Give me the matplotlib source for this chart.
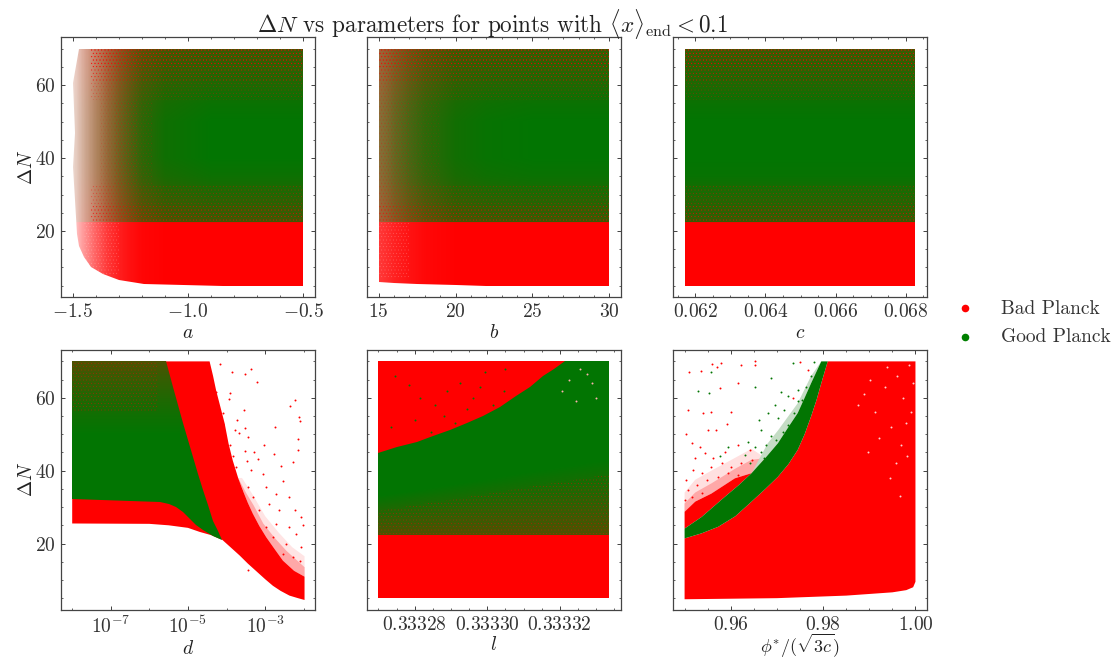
import matplotlib
matplotlib.use("Agg")
import matplotlib.pyplot as plt
from matplotlib.colors import to_rgb
from matplotlib.patches import Polygon
import numpy as np

plt.rcParams['mathtext.fontset'] = 'cm'
plt.rcParams['font.family'] = ['cmr10', 'DejaVu Sans']
plt.rcParams['axes.formatter.use_mathtext'] = True
plt.rcParams['hatch.linewidth'] = 0.2

RED = '#ff0000'
GREEN = '#027502'

# share of red among the points at each height, panels a, b, c
a_y = [5, 22.2, 22.5, 25, 30, 35, 40, 50, 55, 60, 65, 70]
a_red_y = [1, 1, .24, .20, .12, .04, 0, 0, .03, .10, .16, .22]
b_red_y = [1, 1, .22, .18, .10, .03, 0, 0, .03, .10, .15, .20]
c_red_y = [1, 1, .20, .16, .10, .02, 0, 0, .03, .10, .15, .22]

# panel a, how full the cloud is along x and how red it gets on the left
a_x = [-1.5, -1.45, -1.4, -1.35, -1.3, -1.25, -1.2, -1.1, -0.9, -0.5]
a_cover = [.18, .42, .62, .78, .88, .94, .98, 1, 1, 1]
a_red_x = [.6, .55, .5, .45, .35, .25, .15, .05, 0, 0]
a_env_y = [5, 5.5, 6.5, 8.3, 10, 12.8, 16, 19.3, 28.4, 37.6, 46.8, 60.5, 70]
a_env_x = [-0.85, -1.19, -1.3, -1.37, -1.42, -1.45, -1.47, -1.48, -1.49, -1.50, -1.49, -1.50, -1.47]

# panel b
b_x = [15, 15.5, 16, 17, 18, 20, 22, 25, 30]
b_cover = [.78, .82, .87, .93, .97, 1, 1, 1, 1]
b_red_x = [.4, .36, .3, .22, .15, .06, .02, 0, 0]
b_low_x = [15, 16, 17.5, 20, 22, 30]
b_low_y = [6.1, 5.7, 5.4, 5.1, 5.0, 5.0]

# panel c
c_lim = [0.0617, 0.06827]

# panel d, log10(d)
d_low_x = [-8, -6, -5.5, -5, -4.7, -4.4, -4.11, -3.9, -3.66, -3.45, -3.23, -3, -2.8, -2.6, -2.37, -2.15, -1.98]
d_low_y = [25.5, 25.4, 25, 24.3, 23.2, 22.3, 21, 19, 16.7, 14.5, 12.4, 10.2, 8.4, 7, 5.7, 5, 4.5]
d_up_x = [-8, -4.44, -4.35, -4.27, -4.16, -4.05, -3.95, -3.84, -3.7, -3.58, -3.45, -3.32, -3.15, -2.97, -2.75, -2.54, -2.25, -1.98]
d_up_y = [70, 70, 66, 62, 57.5, 53, 47.5, 42.8, 38, 34.6, 31.2, 28.2, 24.8, 21.7, 18.4, 15.3, 12.5, 10.9]
d_soft_x = [-3.7, -3.5, -3.3, -3.05, -2.75, -2.45, -1.98]
d_soft_y = [38, 34, 30.5, 25.5, 21.5, 18, 13.5]
d_pale_x = [-3.6, -3.3, -3, -2.65, -2.3, -1.98]
d_pale_y = [38, 33, 27.5, 23, 19, 16.5]
d_green_lo_x = [-8, -5.73, -5.5, -5.3, -5.13, -4.96, -4.8, -4.61, -4.35, -4.11]
d_green_lo_y = [32.3, 31.4, 30.8, 30, 28.6, 26.8, 25.2, 23.6, 22.2, 21]
d_green_up_x = [-8, -5.56, -5.39, -5.26, -5.13, -5, -4.87, -4.74, -4.61, -4.48, -4.35, -4.23, -4.11]
d_green_up_y = [70, 70, 63, 58, 53, 48.5, 43.8, 39, 34.6, 30.5, 26.3, 23.5, 21]
d_speck_y = [32, 50, 55, 60, 65, 70]
d_speck_red = [0, 0, .05, .12, .2, .3]
d_sparse_x = [-4.18, -3.85, -3.36, -3.53, -3.22, -4.28, -3.91, -3.94, -2.24, -2.36,
              -3.56, -4.08, -3.73, -2.13, -2.11, -4.09, -2.75, -3.53, -3.77, -3.68,
              -3.45, -2.14, -3.92, -3.02, -3.53, -3.28, -2.16, -3.84, -3.47, -3.19,
              -2.76, -2.59, -2.28, -3.75, -3.36, -3.06, -2.54, -3.75, -3.45, -2.97,
              -2.72, -3.62, -3.32, -2.89, -2.37, -2.24, -2.63, -2.03, -2.07, -3.15,
              -2.72, -2.37, -2.2, -2.07, -2.46, -2.97, -2.8, -2.28, -2.11, -2.54, -3.45]
d_sparse_y = [69.4, 67, 67.9, 66.5, 64.4, 61.7, 61.2, 59.8, 59.5, 57.7,
              56.6, 55.7, 53.9, 54.6, 53.7, 52.7, 52, 51.6, 51.1, 50.4,
              49.3, 48.8, 47, 47, 45.4, 45.1, 45.8, 43.9, 42.7, 43.3,
              44.7, 41.2, 42.4, 41, 40.1, 39.2, 37.3, 37.3, 35.5, 35.5,
              33.7, 34.6, 32.8, 30.9, 32.8, 29.1, 29.1, 25, 27.2, 29.1,
              25.4, 24.5, 22.7, 19, 19.9, 24.5, 21.7, 16.2, 15.3, 17.2, 12.8]

# panel l
l_green_x = [0.333270, 0.3332752, 0.3332805, 0.3332851, 0.3332897, 0.3332943, 0.3332989, 0.3333035, 0.333308, 0.3333117, 0.3333153, 0.3333183, 0.3333213, 0.3333335]
l_green_up = [44.8, 46.4, 48, 49.6, 51.2, 53, 54.9, 57.5, 60.4, 63, 65.9, 68, 70, 70]
l_mix_x = [0.333270, 0.3332897, 0.333308, 0.3333335]
l_mix_up = [33, 36, 39, 43]
l_low = [0.333270, 0.3333335]
l_red_pts_x = [0.3333255, 0.3333275, 0.3333225, 0.333329, 0.3333205, 0.33333, 0.3333245]
l_red_pts_y = [68, 66.5, 65, 64, 62, 60, 59]
l_green_pts_x = [.3332745, .3332785, .3332815, .3332855, .333289, .3332925, .333296, .3332995, .3333045,
                 .33327335, .33328, .3332845, .333288, .333291, .3332945, .333298, .3333015, .333305]
l_green_pts_y = [66, 63.5, 60, 58, 62, 64, 60, 67, 62,
                 52, 54, 50.5, 55, 53, 57, 63, 58, 68]

# panel phi
p_red_lo_x = [0.95, 0.97, 0.985, 0.995, 0.998, 0.9995, 1.0]
p_red_lo_y = [4.7, 5.0, 5.7, 6.6, 7.2, 8.0, 9.5]
p_green_lo_x = [0.95, .9537, .9573, .961, .9645, .9675, .9702, .9725, .9745, .976, .9774, .9786, .9796, .9803, .981]
p_green_lo_y = [21.4, 22.8, 24.6, 27.5, 31.5, 35, 38.3, 41.8, 45.7, 50, 54.9, 59.5, 64, 67, 70]
p_green_up_x = [0.95, .9537, .9587, .9617, .9645, .9675, .9702, .9725, .9745, .976, .9774, .9785, .9796]
p_green_up_y = [24.1, 27.3, 32.8, 36, 39.3, 43.5, 47.5, 52, 55.8, 60, 64, 67, 70]
p_edge_x = [0.95, 0.9523, 0.9558, 0.9609, 0.9645]
p_edge_y = [28.7, 31.5, 33.7, 37.9, 39.3]
p_soft_x = [0.95, 0.9523, 0.9558, 0.9609, 0.9645, 0.968]
p_soft_y = [31, 34, 36.5, 40.5, 43, 43.5]
p_pale_x = [0.95, 0.9523, 0.9558, 0.9609, 0.9645, 0.9675]
p_pale_y = [34, 37.5, 40, 43.5, 46, 43.5]
p_gsoft_x = [.9645, .968, .9702, .9745, .9774, .9796]
p_gsoft_y = [39.3, 47.5, 51, 58.5, 66, 70]
p_red_x = [.951, .9535, .956, .9578, .9571, .9622, .9652, .9653, .9576, .9616, .954, .9507,
           .9558, .9601, .9504, .9515, .9533, .9569, .9591, .9551, .9522, .9544, .9562, .9587,
           .9616, .9641, .9504, .9519, .9537, .9558, .958, .9601, .9623, .9645, .9508, .9526,
           .9548, .9573, .9594, .9616, .9515, .9537, .9501, .9767, .9751, .9734]
p_red_y = [67, 67.3, 69.3, 69.5, 68.4, 68.9, 70, 69.1, 62.7, 64.2, 55.8, 56.7,
           56, 56, 50.1, 47.5, 46.4, 51.2, 52.8, 51.2, 43.4, 44.8, 43.4, 45.2,
           47.1, 45.7, 37.4, 40.2, 39.3, 41.1, 42, 41.1, 42, 42.9, 34.7, 36.1,
           37.4, 38.3, 39.3, 38.8, 32.8, 33.8, 31.9, 67.5, 69.8, 59.9]
p_green_x = [.9558, .953, .9553, .9652, .9688, .9734, .9781, .9709, .9724, .9745, .9763, .9774,
             .9695, .968, .9716, .9738, .9662, .9702, .9724, .9666, .9687, .9713, .9637, .9652,
             .9677, .9698, .9594, .9576, .963, .9666, .9673, .9641, .9755, .9745]
p_green_y = [67.2, 61.9, 61.3, 62.9, 65.4, 69.5, 69.8, 61.7, 60.4, 59, 63.1, 65.9,
             58, 55.8, 56.7, 55.8, 53.9, 54.4, 52.6, 51.2, 49.4, 50.7, 48, 46.6,
             47.1, 48.4, 46.6, 43.9, 44.3, 45.2, 43.4, 42, 59.4, 62.2]
p_gap_x = [.9875, .9902, .9938, .9961, .9972, .9985, .9991, .9948, .9921, .9889, .9968, .9979,
           .9934, .9957, .9994, .9912, .9982, .9945, .9966, .9898]
p_gap_y = [58, 65, 68.5, 66, 60, 69, 56, 52, 49, 61, 47, 53, 63, 42, 64, 56, 44, 38, 33, 45]

a_ticks = [-1.5, -1.0, -0.5]
a_labels = ['$-1.5$', '$-1.0$', '$-0.5$']
b_ticks = [15, 20, 25, 30]
c_ticks = [0.062, 0.064, 0.066, 0.068]
d_ticks = [1e-7, 1e-5, 1e-3]
d_labels = ['$10^{-7}$', '$10^{-5}$', '$10^{-3}$']
l_ticks = [0.33328, 0.33330, 0.33332]
p_ticks = [0.96, 0.98, 1.00]
y_ticks = [20, 40, 60]
names = ['$a$', '$b$', '$c$', '$d$', '$l$', r'$\phi^{*}/(\sqrt{3c})$']

r_rgb = np.array(to_rgb(RED))
g_rgb = np.array(to_rgb(GREEN))


def cloud(ax, xs, ys, red, cover, clip=None):
    # colour of the point cloud on a fine grid, red and cover are shares 0..1
    rgb = (red[..., None] * r_rgb + (1 - red[..., None]) * g_rgb) * cover[..., None] + (1 - cover[..., None])
    m = ax.pcolormesh(xs, ys, rgb[:-1, :-1], shading='flat', zorder=2, antialiased=False, rasterized=True)
    if clip is not None:
        p = Polygon(clip, transform=ax.transData, fill=False, lw=0)
        ax.add_patch(p)
        m.set_clip_path(p)


def speck(ax, x, lo, hi, color=RED, alpha=0.55, hatch='.....', z=3):
    ax.fill_between(x, lo, hi, facecolor='none', edgecolor=(*to_rgb(color), alpha), hatch=hatch,
                    linewidth=0, zorder=z)


def blocks(ax, xs_stops, red_y, cover_x, red_x, clip):
    x0, x1 = xs_stops[0], xs_stops[-1]
    xs = np.linspace(x0, x1, 401)
    ys = np.linspace(5, 70, 601)
    cx = np.interp(xs, xs_stops, cover_x)
    rx = np.interp(xs, xs_stops, red_x)
    ry = np.interp(ys, a_y, red_y)
    red = ry[:, None] + (1 - ry[:, None]) * rx[None, :]
    cover = np.ones((len(ys), len(xs))) * cx[None, :]
    cloud(ax, xs, ys, red, cover, clip)


def bands(ax, x):
    # red specks in the thin parts above and below the green core
    speck(ax, x, 22.5, 33, alpha=0.5)
    speck(ax, x, 22.5, 27, alpha=0.6)
    speck(ax, x, 56, 70, alpha=0.4)
    speck(ax, x, 61, 70, alpha=0.6)
    speck(ax, x, 65, 70, alpha=0.8)


fig, axes = plt.subplots(2, 3, figsize=(11.12, 6.59), dpi=100, sharey=True)
fig.subplots_adjust(left=61 / 1112, right=927 / 1112, top=1 - 37 / 659, bottom=1 - 610 / 659,
                    wspace=0.205, hspace=0.2)
(ax_a, ax_b, ax_c), (ax_d, ax_l, ax_p) = axes

# a
clip_a = list(zip(a_env_x, a_env_y)) + [(-0.5, 70), (-0.5, 5)]
blocks(ax_a, a_x, a_red_y, a_cover, a_red_x, clip_a)
bands(ax_a, [-1.42, -0.5])
speck(ax_a, [-1.38, -1.15], 33, 56, alpha=0.25)
speck(ax_a, [-1.32, -1.22], 33, 56, alpha=0.25)
speck(ax_a, [-1.45, -1.3], 8, 22.3, color='white', alpha=0.25)

# b
clip_b = list(zip(b_low_x, b_low_y)) + [(30, 70), (15, 70)]
blocks(ax_b, b_x, b_red_y, b_cover, b_red_x, clip_b)
bands(ax_b, [15, 30])
speck(ax_b, [15, 19], 33, 56, alpha=0.2)
speck(ax_b, [15, 17], 33, 56, alpha=0.2)
speck(ax_b, [15, 17], 7, 22.3, color='white', alpha=0.25)

# c
blocks(ax_c, c_lim, c_red_y, [1, 1], [0, 0], None)
bands(ax_c, c_lim)

# d
dlx = 10.0 ** np.array(d_low_x)
dux = 10.0 ** np.array(d_up_x)
ax_d.fill(10.0 ** np.r_[d_up_x[8:], d_pale_x[::-1]], np.r_[d_up_y[8:], d_pale_y[::-1]],
          color='#ffe4e4', lw=0, zorder=2)
ax_d.fill(10.0 ** np.r_[d_up_x[8:], d_soft_x[::-1]], np.r_[d_up_y[8:], d_soft_y[::-1]],
          color='#ffa8a8', lw=0, zorder=2)
ax_d.fill(np.r_[dlx, dux[::-1]], np.r_[d_low_y, d_up_y[::-1]], color=RED, lw=0, zorder=2)
dgx = 10.0 ** np.linspace(-8, -4.11, 401)
dgy = np.linspace(21, 70, 401)
d_red = np.interp(dgy, d_speck_y, d_speck_red)[:, None] * np.ones((401, 401))
clip_d = list(zip(10.0 ** np.array(d_green_lo_x), d_green_lo_y)) + list(zip(10.0 ** np.array(d_green_up_x)[::-1], d_green_up_y[::-1]))
cloud(ax_d, dgx, dgy, d_red, np.ones((401, 401)), clip_d)
speck(ax_d, [1e-8, 10 ** -5.8], 56, 70)
ax_d.scatter(10.0 ** np.array(d_sparse_x), d_sparse_y, s=2, c=RED, lw=0, zorder=3)

# l
ax_l.fill_between(l_low, 5, 70, color=RED, lw=0, zorder=2)
lxs = np.linspace(l_low[0], l_low[1], 401)
lys = np.linspace(22.3, 70, 401)
mix_top = np.interp(lxs, l_mix_x, l_mix_up)
l_red = np.clip((mix_top[None, :] - lys[:, None]) / (mix_top[None, :] - 22.3), 0, 1) * 0.3
clip_l = [(l_low[0], 22.3), (l_low[1], 22.3)] + list(zip(l_green_x, l_green_up))[::-1]
cloud(ax_l, lxs, lys, l_red, np.ones((401, 401)), clip_l)
speck(ax_l, l_mix_x, 22.5, np.array(l_mix_up) - 4)
ax_l.scatter(l_red_pts_x, l_red_pts_y, s=2, c='#ffb0b0', lw=0, zorder=3)
ax_l.scatter(l_green_pts_x, l_green_pts_y, s=2, c=GREEN, lw=0, zorder=3)

# phi
ax_p.fill(np.r_[p_green_lo_x, [1.0, 1.0], p_red_lo_x[::-1]],
          np.r_[p_green_lo_y, [70, p_red_lo_y[-1]], p_red_lo_y[::-1]], color=RED, lw=0, zorder=2)
ax_p.fill(np.r_[p_edge_x, p_pale_x[::-1]], np.r_[p_edge_y, p_pale_y[::-1]], color='#ffe0e0', lw=0, zorder=2)
ax_p.fill(np.r_[p_edge_x, p_soft_x[::-1]], np.r_[p_edge_y, p_soft_y[::-1]], color='#ffa8a8', lw=0, zorder=2)
ax_p.fill(np.r_[p_edge_x, p_green_up_x[4::-1]], np.r_[p_edge_y, p_green_up_y[4::-1]], color=RED, lw=0, zorder=2)
ax_p.fill(np.r_[p_green_up_x[4:], p_gsoft_x[::-1]], np.r_[p_green_up_y[4:], p_gsoft_y[::-1]],
          color='#c4dcc4', lw=0, zorder=2)
ax_p.fill(np.r_[p_green_lo_x, p_green_up_x[::-1]], np.r_[p_green_lo_y, p_green_up_y[::-1]],
          color=GREEN, lw=0, zorder=3)
ax_p.scatter(p_red_x, p_red_y, s=2, c=RED, lw=0, zorder=3)
ax_p.scatter(p_green_x, p_green_y, s=2, c=GREEN, lw=0, zorder=3)
ax_p.scatter(p_gap_x, p_gap_y, s=2, c='#ffd0d0', lw=0, zorder=3)

ax_a.set_xlim(-1.55, -0.45)
ax_a.set_xticks(a_ticks, a_labels)
ax_a.set_xticks(np.arange(-1.5, -0.45, 0.1), minor=True)
ax_b.set_xlim(14.25, 30.75)
ax_b.set_xticks(b_ticks, ['$%d$' % t for t in b_ticks])
ax_b.set_xticks(np.arange(15, 31, 1), minor=True)
ax_c.set_xlim(0.06137, 0.0686)
ax_c.set_xticks(c_ticks, ['$%.3f$' % t for t in c_ticks])
ax_c.set_xticks(np.arange(0.0615, 0.0686, 0.0005), minor=True)
ax_d.set_xscale('log')
ax_d.set_xlim(10 ** -8.29, 10 ** -1.71)
ax_d.set_xticks(d_ticks, d_labels)
ax_d.set_xticks([1e-8, 1e-6, 1e-4, 1e-2], [''] * 4, minor=True)
ax_l.set_xlim(0.33326685, 0.33333685)
ax_l.set_xticks(l_ticks, ['$%.5f$' % t for t in l_ticks])
ax_l.set_xticks(np.arange(0.333270, 0.333336, 0.000005), minor=True)
ax_p.set_xlim(0.9475, 1.0025)
ax_p.set_xticks(p_ticks, ['$%.2f$' % t for t in p_ticks])
ax_p.set_xticks(np.arange(0.95, 1.001, 0.005), minor=True)

for ax, name in zip(axes.flat, names):
    ax.set_ylim(1.75, 73.25)
    ax.set_yticks(y_ticks, ['$%d$' % t for t in y_ticks])
    ax.set_yticks(np.arange(5, 71, 5), minor=True)
    ax.tick_params(which='major', direction='in', top=True, right=True, length=3, width=0.6,
                   labelsize=14, color='#222222', labelcolor='#333333', pad=4)
    ax.tick_params(which='minor', direction='in', top=True, right=True, length=1.5, width=0.5,
                   color='#222222')
    ax.set_xlabel(name, fontsize=14, labelpad=2, color='#222222')
    for s in ax.spines.values():
        s.set_linewidth(0.9)
        s.set_color('#444444')
ax_p.set_xlabel(names[5], fontsize=13, labelpad=-1, color='#222222')
for ax in (ax_a, ax_d):
    ax.set_ylabel(r'$\Delta N$', fontsize=14, labelpad=-1, color='#222222')

fig.text(0.4432, 0.9635, r'$\Delta N$ vs parameters for points with $\langle x\rangle_{\rm end} < 0.1$',
         fontsize=16.7, ha='center', va='center', color='#222222')

h1 = ax_c.scatter([], [], s=30, c=RED, lw=0, label='Bad Planck')
h2 = ax_c.scatter([], [], s=30, c='#008000', lw=0, label='Good Planck')
fig.legend(handles=[h1, h2], loc='center left', bbox_to_anchor=(0.835, 0.51), frameon=False,
           fontsize=14, labelcolor='#333333', handletextpad=0.85, labelspacing=0.55)

fig.savefig('out.png', dpi=100)
